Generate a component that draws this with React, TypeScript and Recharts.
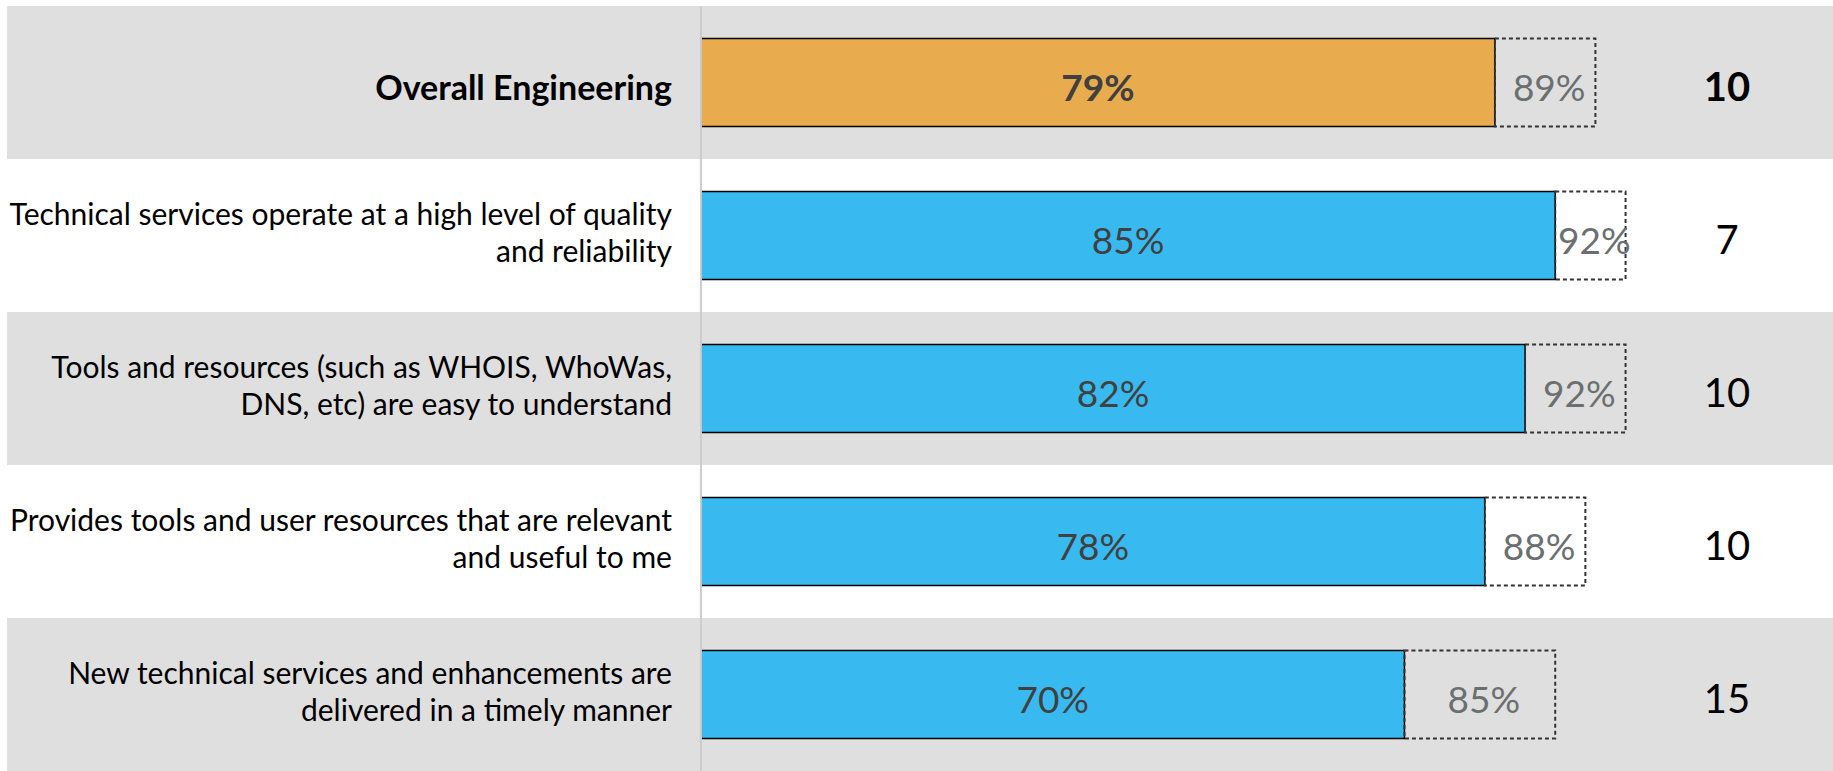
import React from "react";

import { Bar, BarChart, Cell, LabelList, ReferenceArea, ReferenceLine, XAxis, YAxis } from "recharts";


const categories: Array<Array<string>> = [
  ["Overall Engineering"],
  ["Technical services operate at a high level of quality", "and reliability"],
  ["Tools and resources (such as WHOIS, WhoWas,", "DNS, etc) are easy to understand"],
  ["Provides tools and user resources that are relevant", "and useful to me"],
  ["New technical services and enhancements are", "delivered in a timely manner"]
];
const scores = [79, 85, 82, 78, 70];
const targets = [89, 92, 92, 88, 85];
const counts = [10, 7, 10, 10, 15];

// x domain is stretched so 0..100 sits between the label column and the count column
const X_MIN = -69.05;
const X_MAX = 112.64;
const COUNT_POS = 102.1;

const FONT = "Lato, 'Open Sans', sans-serif";
const BLUE = "#38BAF0";
const ORANGE = "#E8AB4E";
const BAND = "#DFDFDF";

const data = categories.map((lines, i) => ({
  name: lines.join(" "),
  score: scores[i],
  gap: targets[i] - scores[i],
  count: counts[i]
}));


const CategoryLabel = (props: any) => {
  const { x, y, height, index } = props;
  const lines = categories[index];
  const cy = y + height / 2;
  const lineH = 37;
  const start = cy - ((lines.length - 1) * lineH) / 2 + (lines.length === 1 ? 4 : -4);
  return (
    <text
      x={x - 29}
      y={start}
      textAnchor="end"
      fontFamily={FONT}
      fontSize={index === 0 ? 34 : 30}
      fontWeight={index === 0 ? 700 : 400}
      fill="#000"
    >
      {lines.map((line, k) => (
        <tspan key={k} x={x - 29} y={start + k * lineH} dominantBaseline="central">{line}</tspan>
      ))}
    </text>
  );
};

const ScoreLabel = (props: any) => {
  const { x, y, width, height, index } = props;
  return (
    <text
      x={x + width / 2}
      y={y + height / 2 + 4}
      textAnchor="middle"
      dominantBaseline="central"
      fontFamily={FONT}
      fontSize={37}
      fontWeight={index === 0 ? 700 : 400}
      fill="#404040"
    >
      {scores[index]}%
    </text>
  );
};

const TargetLabel = (props: any) => {
  const { x, y, width, height, index } = props;
  return (
    <text
      x={x + width / 2 + 4}
      y={y + height / 2 + 4}
      textAnchor="middle"
      dominantBaseline="central"
      fontFamily={FONT}
      fontSize={37}
      fill="#6B6F70"
    >
      {targets[index]}%
    </text>
  );
};

const CountLabel = (props: any) => {
  const { x, y, width, height, index } = props;
  const perUnit = width / scores[index];
  return (
    <text
      x={x + COUNT_POS * perUnit}
      y={y + height / 2 + 4}
      textAnchor="middle"
      dominantBaseline="central"
      fontFamily={FONT}
      fontSize={40}
      fontWeight={index === 0 ? 700 : 400}
      fill="#000"
    >
      {counts[index]}
    </text>
  );
};


const App: React.FC = () => {
  return (
    <div style={{ position: "absolute", left: 0, top: 0 }}>
      <BarChart
        width={1833}
        height={771}
        data={data}
        layout="vertical"
        margin={{ top: 6, right: 0, bottom: 0, left: 7 }}
        barCategoryGap="21.2%"
      >
        <XAxis type="number" domain={[X_MIN, X_MAX]} allowDataOverflow hide />
        <YAxis type="category" dataKey="name" hide />
        {data.filter((_, i) => i % 2 === 0).map((d) => (
          <ReferenceArea key={d.name} y1={d.name} y2={d.name} fill={BAND} fillOpacity={1} stroke="none" />
        ))}
        <ReferenceLine x={0} stroke="#CCCCCC" strokeWidth={2} />
        <Bar dataKey="score" stackId="a" stroke="#000" strokeWidth={1.5} isAnimationActive={false}>
          {data.map((_, i) => (
            <Cell key={i} fill={i === 0 ? ORANGE : BLUE} />
          ))}
          <LabelList dataKey="score" content={ScoreLabel} />
          <LabelList dataKey="name" content={CategoryLabel} />
          <LabelList dataKey="count" content={CountLabel} />
        </Bar>
        <Bar
          dataKey="gap"
          stackId="a"
          fill="none"
          stroke="#333333"
          strokeWidth={2}
          strokeDasharray="4 3"
          isAnimationActive={false}
        >
          <LabelList dataKey="gap" content={TargetLabel} />
        </Bar>
      </BarChart>
    </div>
  );
};

export default App;
